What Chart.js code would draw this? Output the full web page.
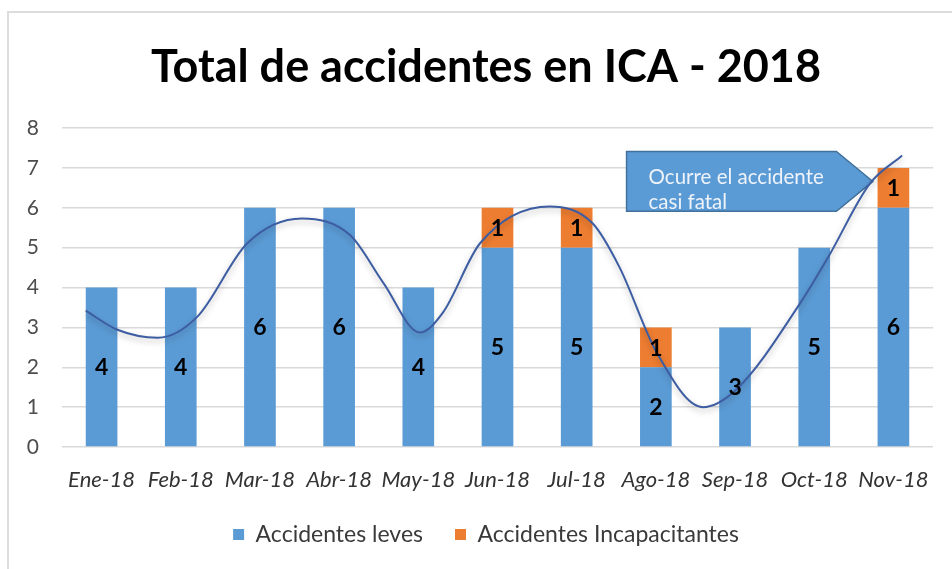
<!DOCTYPE html>
<html>
<head>
<meta charset="utf-8">
<script src="https://cdn.jsdelivr.net/npm/chart.js@4/dist/chart.umd.min.js"></script>
<style>
  html, body { margin: 0; padding: 0; background: #fff; }
  #wrap { position: relative; width: 952px; height: 569px; overflow: hidden; }
  #frame { position: absolute; left: 7px; top: 11px; width: 1000px; height: 1000px; border: 2px solid #dcdcdc; box-sizing: border-box; }
  #chart { position: absolute; left: 0; top: 0; }
</style>
</head>
<body>
<div id="wrap">
  <div id="frame"></div>
  <canvas id="chart" width="952" height="569"></canvas>
</div>
<script>
"use strict";

const months = ['Ene-18', 'Feb-18', 'Mar-18', 'Abr-18', 'May-18', 'Jun-18',
                'Jul-18', 'Ago-18', 'Sep-18', 'Oct-18', 'Nov-18'];
const leves = [4, 4, 6, 6, 4, 5, 5, 2, 3, 5, 6];
const incapacitantes = [null, null, null, null, null, 1, 1, 1, null, null, 1];

// hand drawn trend curve (x = month index)
const trendX = [-0.2, 0.2, 0.71, 1.21, 1.84, 2.53, 3.14, 3.56, 4.02, 4.31, 4.78,
                5.66, 6.2, 6.54, 7.01, 7.59, 8.02, 8.85, 9.19, 9.7, 10.11];
const trendY = [3.42, 2.94, 2.74, 3.27, 5.11, 5.73, 5.31, 4.11, 2.87, 3.37, 5.11,
                6.03, 5.61, 4.51, 2.37, 1.0, 1.45, 3.69, 4.81, 6.6, 7.31];

const yTicks = [0, 1, 2, 3, 4, 5, 6, 7, 8];

const calloutText = ['Ocurre el accidente', 'casi fatal'];

const BLUE = '#5b9bd5';
const ORANGE = '#ed7d31';
const FONT = 'Lato, "Open Sans", sans-serif';

const trendData = trendX.map(function(x, i) { return {x: x, y: trendY[i]}; });

const shadowLine = {
  id: 'shadowLine',
  beforeDatasetDraw: function(chart, args) {
    if (chart.data.datasets[args.index].type !== 'line') return;
    const ctx = chart.ctx;
    ctx.save();
    ctx.shadowColor = 'rgba(0,0,0,0.28)';
    ctx.shadowBlur = 6;
    ctx.shadowOffsetY = 3;
  },
  afterDatasetDraw: function(chart, args) {
    if (chart.data.datasets[args.index].type !== 'line') return;
    chart.ctx.restore();
  }
};

const callout = {
  id: 'callout',
  beforeDatasetsDraw: function(chart) {
    const ctx = chart.ctx;
    const xs = chart.scales.xl, ys = chart.scales.y;
    const left = xs.getPixelForValue(6.63), body = xs.getPixelForValue(9.28), tip = xs.getPixelForValue(9.74);
    const top = ys.getPixelForValue(7.41), bottom = ys.getPixelForValue(5.91);
    ctx.save();
    ctx.beginPath();
    ctx.moveTo(left, top);
    ctx.lineTo(body, top);
    ctx.lineTo(tip, (top + bottom) / 2);
    ctx.lineTo(body, bottom);
    ctx.lineTo(left, bottom);
    ctx.closePath();
    ctx.fillStyle = BLUE;
    ctx.fill();
    ctx.lineWidth = 1.5;
    ctx.strokeStyle = '#41719c';
    ctx.stroke();
    ctx.fillStyle = '#eef3fa';
    ctx.font = '20.5px ' + FONT;
    ctx.textBaseline = 'alphabetic';
    ctx.textAlign = 'left';
    ctx.fillText(calloutText[0], left + 22, top + 32);
    ctx.fillText(calloutText[1], left + 22, top + 57);
    ctx.restore();
  }
};

const barLabels = {
  id: 'barLabels',
  afterDatasetsDraw: function(chart) {
    const ctx = chart.ctx;
    ctx.save();
    ctx.font = 'bold 23px ' + FONT;
    ctx.fillStyle = '#000';
    ctx.textAlign = 'center';
    ctx.textBaseline = 'middle';
    chart.data.datasets.forEach(function(ds, di) {
      if (ds.type === 'line') return;
      const meta = chart.getDatasetMeta(di);
      meta.data.forEach(function(bar, i) {
        const v = ds.data[i];
        if (v === null || v === undefined) return;
        ctx.fillText(String(v), bar.x, (bar.y + bar.base) / 2 + 1);
      });
    });
    ctx.restore();
  }
};

new Chart('chart', {
  data: {
    labels: months,
    datasets: [
      {
        type: 'line',
        label: 'tendencia',
        data: trendData,
        xAxisID: 'xl',
        borderColor: '#3d5da3',
        borderWidth: 2,
        pointRadius: 0,
        cubicInterpolationMode: 'monotone',
        fill: false,
        order: -1
      },
      {
        type: 'bar',
        label: 'Accidentes leves',
        data: leves,
        backgroundColor: BLUE,
        stack: 'total',
        grouped: false,
        barPercentage: 0.4,
        categoryPercentage: 1
      },
      {
        type: 'bar',
        label: 'Accidentes Incapacitantes',
        data: incapacitantes,
        backgroundColor: ORANGE,
        stack: 'total',
        grouped: false,
        barPercentage: 0.4,
        categoryPercentage: 1
      }
    ]
  },
  options: {
    responsive: false,
    animation: false,
    layout: { padding: { left: 20, right: 0, top: 0, bottom: 13 } },
    plugins: {
      title: {
        display: true,
        text: 'Total de accidentes en ICA - 2018',
        color: '#000',
        font: { family: FONT, size: 45, weight: 'bold' },
        padding: { top: 40, bottom: 34 }
      },
      legend: {
        position: 'bottom',
        labels: {
          color: '#3a3a3a',
          font: { family: FONT, size: 23 },
          boxWidth: 11,
          boxHeight: 11,
          padding: 32,
          filter: function(item) { return item.text !== 'tendencia'; }
        }
      },
      tooltip: { enabled: false }
    },
    scales: {
      x: {
        stacked: true,
        offset: true,
        grid: { display: false, drawTicks: false },
        border: { display: false },
        afterFit: function(scale) { scale.height = 44; },
        ticks: { color: '#333333', padding: 22, maxRotation: 0, autoSkip: false,
                 font: { family: FONT, size: 22, style: 'italic', lineHeight: 1 } }
      },
      xl: {
        type: 'linear',
        display: false,
        min: -0.5,
        max: 10.5
      },
      y: {
        stacked: true,
        min: 0,
        max: 8,
        afterBuildTicks: function(scale) { scale.ticks = yTicks.map(function(v) { return {value: v}; }); },
        afterFit: function(scale) { scale.width = 42; },
        grid: { color: '#d9d9d9', lineWidth: 1.5, drawTicks: false },
        border: { display: false },
        ticks: { color: '#4d4d4d', padding: 23, font: { family: FONT, size: 21 } }
      },
      yr: {
        type: 'linear',
        position: 'right',
        display: true,
        grid: { display: false, drawTicks: false },
        border: { display: false },
        ticks: { display: false },
        afterFit: function(scale) { scale.width = 19; }
      }
    }
  },
  plugins: [shadowLine, callout, barLabels]
});
</script>
</body>
</html>
